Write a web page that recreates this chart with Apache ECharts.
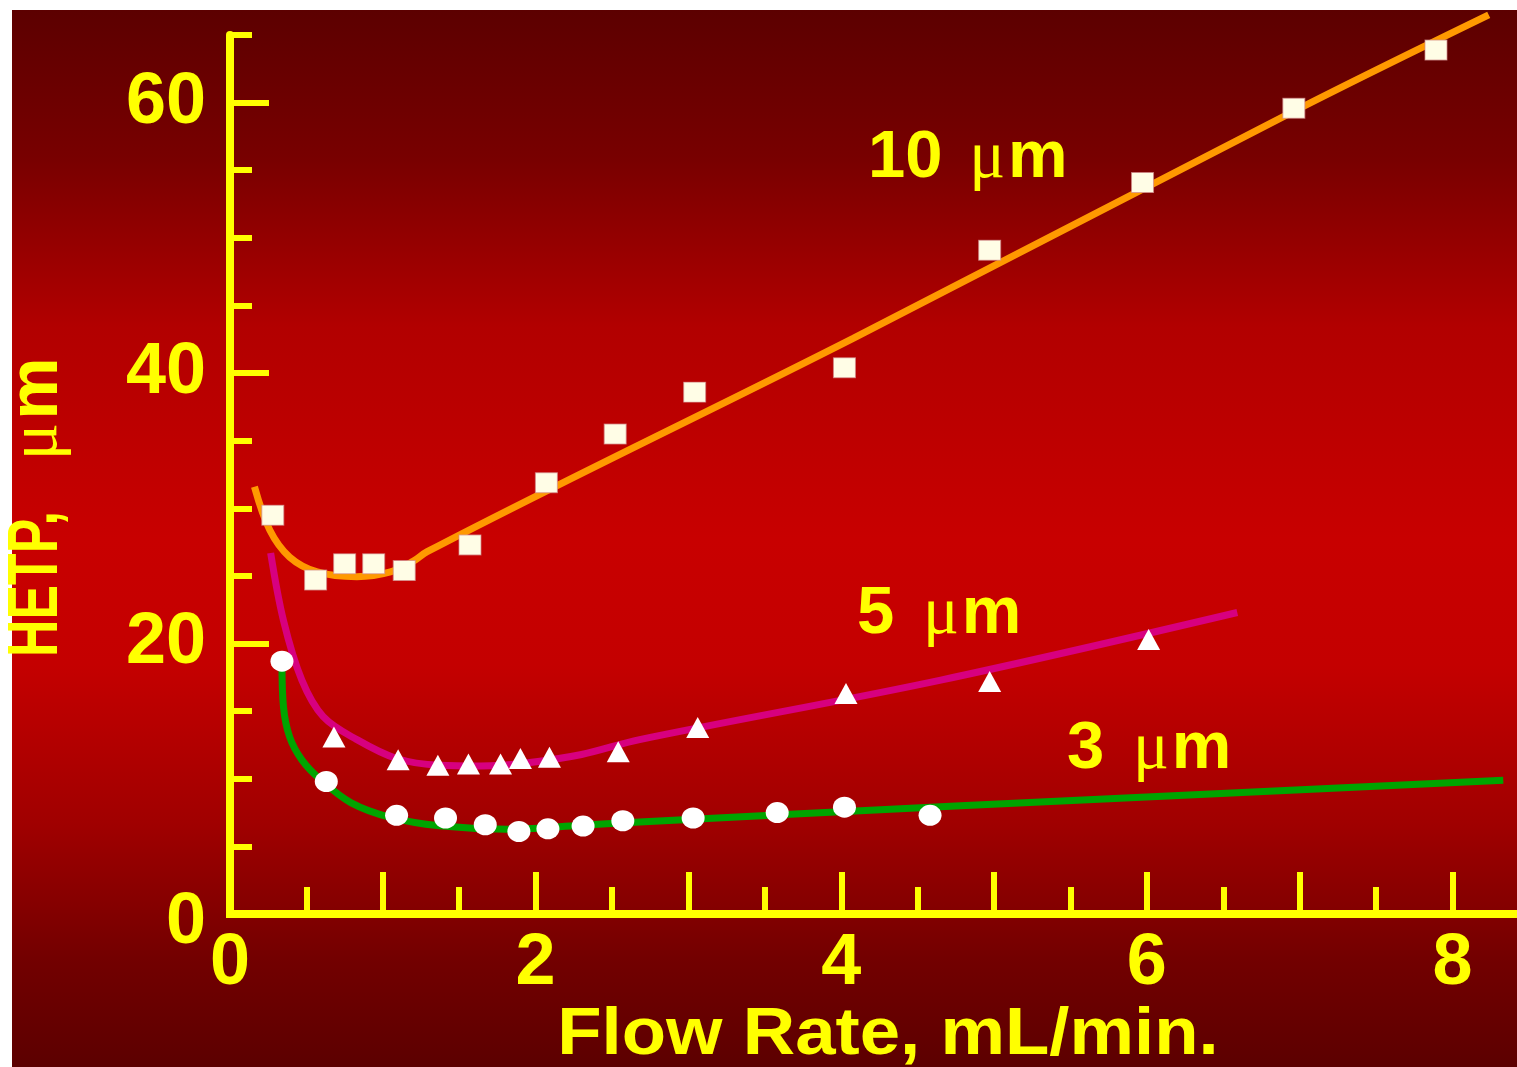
<!DOCTYPE html>
<html>
<head>
<meta charset="utf-8">
<script src="https://cdn.jsdelivr.net/npm/echarts@6/dist/echarts.min.js"></script>
<style>
html,body{margin:0;padding:0;background:#ffffff;}
#chart{width:1517px;height:1067px;}
</style>
</head>
<body>
<div id="chart"></div>
<script>
// ---------- data ----------
// 10 µm particles (squares)
const sq10X = [0.28, 0.56, 0.75, 0.94, 1.14, 1.57, 2.07, 2.52, 3.04, 4.02, 4.97, 5.97, 6.96, 7.89];
const sq10Y = [29.5, 24.7, 25.9, 25.9, 25.4, 27.3, 31.9, 35.5, 38.6, 40.4, 49.1, 54.1, 59.6, 63.9];
// 5 µm particles (triangles)
const tri5X = [0.68, 1.10, 1.36, 1.56, 1.77, 1.90, 2.09, 2.54, 3.06, 4.03, 4.97, 6.01];
const tri5Y = [13.1, 11.4, 11.0, 11.1, 11.1, 11.5, 11.6, 12.0, 13.8, 16.3, 17.2, 20.3];
// 3 µm particles (circles)
const circ3X = [0.34, 0.63, 1.09, 1.41, 1.67, 1.89, 2.08, 2.31, 2.57, 3.03, 3.58, 4.02, 4.58];
const circ3Y = [18.7, 9.8, 7.3, 7.1, 6.6, 6.1, 6.3, 6.5, 6.9, 7.1, 7.5, 7.9, 7.3];
// fitted curves
const fit10X = [0.16, 0.26, 0.39, 0.57, 0.83, 1.05, 1.20, 1.29, 2.16, 4.08, 7.00, 8.235];
const fit10Y = [31.6, 28.4, 26.4, 25.3, 24.95, 25.3, 26.1, 26.8, 31.8, 42.6, 59.6, 66.5];
const fit5X = [0.266, 0.35, 0.47, 0.61, 0.83, 1.09, 1.37, 1.64, 1.92, 2.30, 2.68, 4.65, 6.59];
const fit5Y = [26.7, 21.7, 17.3, 14.6, 12.9, 11.5, 11.0, 10.95, 11.15, 11.8, 12.9, 17.3, 22.3];
const fit3X = [0.34, 0.35, 0.39, 0.47, 0.59, 0.79, 1.05, 1.37, 1.81, 2.25, 2.68, 4.78, 8.33];
const fit3Y = [18.6, 15.3, 13.1, 11.4, 9.96, 8.24, 7.14, 6.52, 6.27, 6.52, 6.81, 8.0, 9.9];
// tick labels
const xTickLabels = [0, 2, 4, 6, 8];
const yTickLabels = [0, 20, 40, 60];
// texts
const xAxisTitle = 'Flow Rate, mL/min.';
const yAxisTitleA = 'HETP,';
const yAxisTitleB = ['', 'μ', 'm'];
const curveLabels = [['10 ', 'μ', 'm'], ['5 ', 'μ', 'm'], ['3 ', 'μ', 'm']];

// ---------- helpers ----------
const zip = (xs, ys) => xs.map((x, i) => [x, ys[i]]);
const YEL = '#ffff00';
const SANS = '"Liberation Sans", Arial, sans-serif';
const SERIF = '"Liberation Serif", "DejaVu Serif", serif';

const chart = echarts.init(document.getElementById('chart'), null, {renderer: 'canvas'});

function richLabel(parts, size, gap) {
  return {
    text: (parts[0] ? '{d|' + parts[0] + '}' : '') + '{u|' + parts[1] + '}{d|' + parts[2] + '}',
    rich: {
      d: {fontFamily: SANS, fontWeight: 'bold', fontSize: size, fill: YEL, color: YEL},
      u: {fontFamily: SERIF, fontWeight: 'normal', fontSize: size, fill: YEL, color: YEL, padding: [0, 3, 0, gap]}
    }
  };
}

const lbl10 = richLabel(curveLabels[0], 67, 8);
const lbl5 = richLabel(curveLabels[1], 67, 10);
const lbl3 = richLabel(curveLabels[2], 67, 10);
const ylblB = richLabel(yAxisTitleB, 70, 0);

const hidden = {axisLine: {show: false}, axisTick: {show: false}, axisLabel: {show: false}, splitLine: {show: false}};

const option = {
  animation: false,
  backgroundColor: '#ffffff',
  grid: [
    // axis frame
    {left: 230, right: 0, top: 35, bottom: 153, containLabel: false, outerBoundsMode: 'none'},
    // major ticks / labels (0..8, 0..60)
    {left: 230, right: 64.5, top: 102.8, bottom: 153, containLabel: false, outerBoundsMode: 'none'},
    // data area (same scale, roomy enough for every mark)
    {left: 230, right: 0, top: 8.16, bottom: 153, containLabel: false, outerBoundsMode: 'none'}
  ],
  xAxis: [
    {
      gridIndex: 0, type: 'value', min: 0, max: 8.42,
      axisLine: {show: true, onZero: false, lineStyle: {color: YEL, width: 8, cap: 'square'}},
      axisTick: {show: false}, axisLabel: {show: false}, splitLine: {show: false}
    },
    {
      gridIndex: 1, type: 'value', min: 0, max: 8, interval: 1,
      axisLine: {show: false},
      axisTick: {show: true, inside: true, length: 42, lineStyle: {color: YEL, width: 6}},
      minorTick: {show: true, splitNumber: 2, length: 27, lineStyle: {color: YEL, width: 6}},
      axisLabel: {
        show: true, margin: 14, color: YEL, fontFamily: SANS, fontWeight: 'bold', fontSize: 72,
        showMinLabel: true, showMaxLabel: true,
        formatter: v => (xTickLabels.indexOf(v) >= 0 ? String(v) : '')
      },
      splitLine: {show: false}
    },
    Object.assign({gridIndex: 2, type: 'value', min: 0, max: 8.42}, hidden)
  ],
  yAxis: [
    {
      gridIndex: 0, type: 'value', min: 0, max: 65, interval: 5,
      axisLine: {show: true, onZero: false, lineStyle: {color: YEL, width: 8}},
      axisTick: {show: true, inside: true, length: 22, lineStyle: {color: YEL, width: 6}},
      axisLabel: {show: false}, splitLine: {show: false}
    },
    {
      gridIndex: 1, type: 'value', min: 0, max: 60, interval: 20,
      axisLine: {show: false},
      axisTick: {show: true, inside: true, length: 39, lineStyle: {color: YEL, width: 6}},
      axisLabel: {
        show: true, margin: 24, color: YEL, fontFamily: SANS, fontWeight: 'bold', fontSize: 72,
        showMinLabel: true, showMaxLabel: true,
        formatter: v => (yTickLabels.indexOf(v) < 0 ? '' : (v === 0 ? '{z|0}' : String(v))),
        rich: {z: {padding: [18, 0, 0, 0], color: YEL, fontFamily: SANS, fontWeight: 'bold', fontSize: 72}}
      },
      splitLine: {show: false}
    },
    Object.assign({gridIndex: 2, type: 'value', min: 0, max: 67}, hidden)
  ],
  graphic: [
    {
      type: 'rect', z: -100, silent: true,
      shape: {x: 12, y: 10, width: 1505, height: 1057},
      style: {
        fill: new echarts.graphic.LinearGradient(0, 0, 0, 1, [
          {offset: 0, color: '#5c0000'},
          {offset: 0.14, color: '#780000'},
          {offset: 0.30, color: '#b20000'},
          {offset: 0.50, color: '#c80000'},
          {offset: 0.62, color: '#c40000'},
          {offset: 0.77, color: '#a00000'},
          {offset: 0.90, color: '#720000'},
          {offset: 1, color: '#5c0000'}
        ])
      }
    },
    {
      type: 'text', x: 888, y: 1036, scaleX: 1.1, z: 10, silent: true,
      style: {text: xAxisTitle, fontFamily: SANS, fontWeight: 'bold', fontSize: 66, fill: YEL, align: 'center', verticalAlign: 'middle'}
    },
    {
      type: 'text', x: 38, y: 584, rotation: Math.PI / 2, scaleX: 0.74, z: 10, silent: true,
      style: {text: yAxisTitleA, fontFamily: SANS, fontWeight: 'bold', fontSize: 70, fill: YEL, align: 'center', verticalAlign: 'middle'}
    },
    {
      type: 'text', x: 38, y: 409, rotation: Math.PI / 2, z: 10, silent: true,
      style: Object.assign({fill: YEL, align: 'center', verticalAlign: 'middle'}, ylblB)
    },
    {
      type: 'text', x: 868, y: 159, z: 10, silent: true,
      style: Object.assign({fill: YEL, align: 'left', verticalAlign: 'middle'}, lbl10)
    },
    {
      type: 'text', x: 857, y: 615, z: 10, silent: true,
      style: Object.assign({fill: YEL, align: 'left', verticalAlign: 'middle'}, lbl5)
    },
    {
      type: 'text', x: 1067, y: 750, z: 10, silent: true,
      style: Object.assign({fill: YEL, align: 'left', verticalAlign: 'middle'}, lbl3)
    }
  ],
  series: [
    {
      name: '10 µm fit', type: 'line', xAxisIndex: 2, yAxisIndex: 2, clip: false,
      data: zip(fit10X, fit10Y), smooth: 0.35, symbol: 'none',
      lineStyle: {color: '#ff9900', width: 7}, z: 3, silent: true
    },
    {
      name: '5 µm fit', type: 'line', xAxisIndex: 2, yAxisIndex: 2, clip: false,
      data: zip(fit5X, fit5Y), smooth: 0.35, symbol: 'none',
      lineStyle: {color: '#d7007f', width: 7}, z: 3, silent: true
    },
    {
      name: '3 µm fit', type: 'line', xAxisIndex: 2, yAxisIndex: 2, clip: false,
      data: zip(fit3X, fit3Y), smooth: 0.35, symbol: 'none',
      lineStyle: {color: '#00a400', width: 7}, z: 3, silent: true
    },
    {
      name: '10 µm', type: 'scatter', xAxisIndex: 2, yAxisIndex: 2, clip: false,
      data: zip(sq10X, sq10Y), symbol: 'rect', symbolSize: [22, 20],
      itemStyle: {color: '#fffde6', borderColor: 'rgba(210,140,140,0.7)', borderWidth: 1, opacity: 1}, z: 5
    },
    {
      name: '5 µm', type: 'scatter', xAxisIndex: 2, yAxisIndex: 2, clip: false,
      data: zip(tri5X, tri5Y), symbol: 'triangle', symbolSize: [23, 21],
      itemStyle: {color: '#ffffff', opacity: 1}, z: 5
    },
    {
      name: '3 µm', type: 'scatter', xAxisIndex: 2, yAxisIndex: 2, clip: false,
      data: zip(circ3X, circ3Y), symbol: 'circle', symbolSize: [23, 21],
      itemStyle: {color: '#ffffff', opacity: 1}, z: 5
    }
  ]
};
chart.setOption(option);
</script>
</body>
</html>
